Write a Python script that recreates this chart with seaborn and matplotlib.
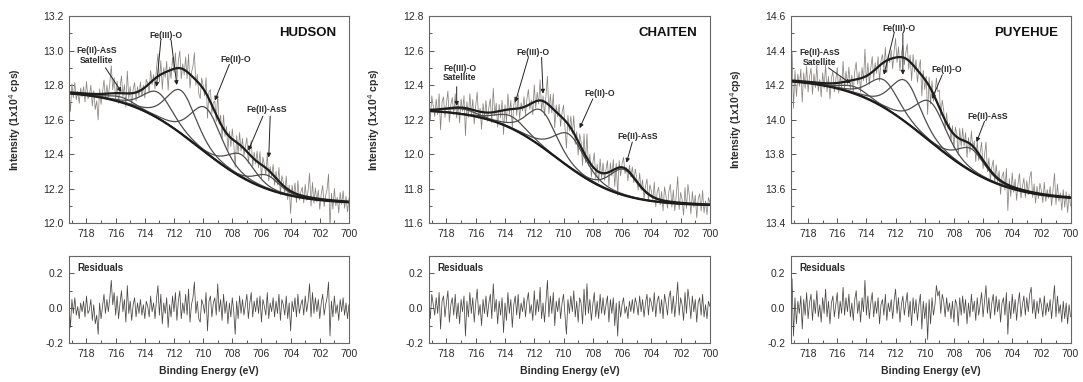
import numpy as np
import matplotlib
matplotlib.use("Agg")
import matplotlib.pyplot as plt
from matplotlib.ticker import MultipleLocator, FormatStrFormatter
import seaborn as sns

# --- data ---------------------------------------------------------------
samples = ["HUDSON", "CHAITEN", "PUYEHUE"]
y_limits = [(12.0, 13.2), (11.6, 12.8), (13.4, 14.6)]
y_labels = ["Intensity (1x10$^4$ cps)", "Intensity (1x10$^4$ cps)", "Intensity (1x10$^4$cps)"]

# background step: high BE level, low BE level, step centre (eV), step width (eV)
bg_high = [12.77, 12.26, 14.24]
bg_low = [12.11, 11.70, 13.53]
bg_center = [710.3, 710.5, 709.8]
bg_width = [2.5, 2.2, 2.6]

# fitted components: centre (eV), height above background, FWHM (eV)
hudson_centers = [715.6, 713.1, 711.5, 709.8, 707.4, 705.6]
hudson_heights = [0.03, 0.15, 0.25, 0.26, 0.13, 0.08]
hudson_fwhm = [2.2, 2.4, 2.4, 2.5, 2.2, 2.0]

chaiten_centers = [716.9, 713.6, 711.5, 709.6, 705.9]
chaiten_heights = [0.03, 0.07, 0.21, 0.19, 0.15]
chaiten_fwhm = [2.4, 2.4, 2.4, 2.5, 2.2]

puyehue_centers = [714.8, 712.8, 711.3, 709.6, 706.8]
puyehue_heights = [0.04, 0.16, 0.24, 0.23, 0.13]
puyehue_fwhm = [2.2, 2.4, 2.4, 2.5, 2.2]

# residuals, 0.1 eV steps from 719.2 eV downwards, in units of 0.01
hudson_resid = [
    2, -11, 5, -3, 6, -4, 1, -6, 3, -2,
    4, -5, 7, -3, -1, 5, -7, 2, -9, -4,
    -15, 3, -6, 1, 8, -3, 5, -2, 6, 16,
    2, 9, -4, 7, -6, 3, 10, -2, 5, -8,
    13, -3, 4, -7, 2, 6, -5, 3, -3, 5,
    -4, 2, -6, 4, 1, -5, 7, -2, 3, -6,
    5, 13, -4, 8, -9, 3, -3, 6, -11, 2,
    -5, 7, -2, 9, -7, 4, 10, -6, 3, -3,
    8, -4, 11, -8, 2, 6, 15, -3, 4, -6,
    -8, 5, 2, -3, 9, -13, 4, 7, -5, 3,
    6, -4, 14, -2, 5, -7, 8, -3, 4, -9,
    3, -5, 6, -2, -15, 4, -6, 7, -3, 5,
    -4, 2, 8, -6, 3, 9, -5, 4, -2, 6,
    -3, 7, -8, 5, 1, -4, 9, -6, 3, -2,
    6, -5, 4, -3, 8, -7, 5, 2, -4, 7,
    -6, 3, -13, 4, -2, 6, -5, 8, -3, 2,
    5, -4, 7, -2, 4, 14, -5, 9, -3, 6,
    -2, 5, -6, 3, 8, -4, 2, 6, 15, -16,
    4, -5, 7, -3, 2, -7, 5, -2, 6, -4,
    3, -6, 2,
]
chaiten_resid = [
    5, -6, 8, 2, -4, 6, -3, 9, -12, 4,
    7, -5, 3, 10, -8, 2, 6, -4, 8, -6,
    3, -9, 5, -2, 7, -16, 4, -5, 9, -3,
    6, -8, 3, 11, -4, 2, -10, 5, -3, 7,
    -5, 3, 8, -6, 14, -2, 5, -9, 4, -4,
    6, -14, 3, -7, 9, -3, 5, -11, 2, 7,
    -4, 8, -6, 3, -2, 6, -5, 4, 9, -3,
    2, -7, 10, -4, 5, -2, 12, -6, 3, -8,
    4, 16, -5, 7, -3, 9, -10, 4, -2, 6,
    -6, 3, 8, -4, -15, 5, -3, 7, -2, 10,
    -5, 4, -8, 6, 3, -9, 11, -4, 14, -3,
    5, -7, 2, 9, -5, 4, -6, 8, -3, 6,
    -4, 2, 7, -8, 5, -3, 6, -10, 3, -16,
    4, -5, 2, 6, -3, 1, -6, 4, -2, 5,
    -3, 6, 2, -4, 7, -2, 5, -5, 3, 8,
    -4, 6, 3, -2, 9, -5, 4, 7, -3, 5,
    -6, 8, 3, -4, 6, 10, -3, 7, -5, 4,
    15, -4, 6, 2, -7, 9, -3, 11, 4, -6,
    7, -2, 5, -8, 3, 6, -4, 8, -5, 2,
    -6, 4, 1,
]
puyehue_resid = [
    8, 17, -16, 6, -9, 4, -3, 7, -12, 5,
    -4, 9, -6, 3, 8, -7, 5, -3, 10, -5,
    2, -8, 6, -3, 11, -5, 4, -9, 3, 7,
    -5, 2, 9, -6, 4, -3, 12, -4, 6, -2,
    8, -5, 3, -7, 5, 10, -3, 4, -8, 6,
    -2, 16, -4, 7, -6, 3, 9, -5, 4, -3,
    6, -9, 2, 5, -4, 8, -7, 3, -2, 5,
    -6, 4, 11, -3, 6, -8, 2, 7, -4, 3,
    9, -5, 4, -10, 6, -3, 5, -7, 2, 8,
    -12, 4, -6, 3, -18, 5, -9, 6, -4, 2,
    13, 7, 10, -3, 8, 4, -5, 6, -2, 3,
    -6, 4, -8, 5, 2, -10, 6, -4, 7, -3,
    5, -9, 3, -5, 8, -2, 4, -7, 6, -4,
    2, 9, -5, 4, 13, -3, 6, -6, 3, 8,
    -4, 7, -2, 5, -8, 3, 6, -4, 9, -15,
    4, -6, 8, -3, 5, -7, 3, 9, -5, 2,
    7, -4, 6, -2, 8, 12, -3, 5, -6, 4,
    -3, 6, 2, -5, 7, -4, 3, -2, 5, -6,
    4, 13, -5, 7, -3, 2, -8, 4, -6, 3,
    -9, 2, -5,
]

peaks = [
    (hudson_centers, hudson_heights, hudson_fwhm),
    (chaiten_centers, chaiten_heights, chaiten_fwhm),
    (puyehue_centers, puyehue_heights, puyehue_fwhm),
]
residuals = [hudson_resid, chaiten_resid, puyehue_resid]

# --- annotation layout (text pos, arrow tails -> tips) --------------------
notes = [
    [
        ("Fe(II)-AsS\nSatellite", (717.3, 12.97), [((716.7, 12.90), (715.6, 12.76))]),
        ("Fe(III)-O", (712.55, 13.09), [((712.9, 13.06), (713.2, 12.79)),
                                        ((712.2, 13.06), (711.8, 12.80))]),
        ("Fe(II)-O", (707.8, 12.95), [((708.2, 12.92), (709.2, 12.71))]),
        ("Fe(II)-AsS", (705.65, 12.66), [((705.9, 12.62), (706.9, 12.42)),
                                         ((705.4, 12.62), (705.5, 12.38))]),
    ],
    [
        ("Fe(III)-O\nSatellite", (717.1, 12.47), [((717.3, 12.39), (717.3, 12.28))]),
        ("Fe(III)-O", (712.1, 12.59), [((712.4, 12.56), (713.3, 12.30)),
                                       ((711.5, 12.56), (711.4, 12.35))]),
        ("Fe(II)-O", (707.5, 12.35), [((708.0, 12.32), (708.9, 12.15))]),
        ("Fe(II)-AsS", (704.9, 12.10), [((705.3, 12.07), (705.7, 11.95))]),
    ],
    [
        ("Fe(II)-AsS\nSatellite", (717.2, 14.36), [((716.6, 14.30), (715.1, 14.21))]),
        ("Fe(III)-O", (711.8, 14.53), [((712.1, 14.50), (712.8, 14.26)),
                                       ((711.5, 14.50), (711.5, 14.26))]),
        ("Fe(II)-O", (708.5, 14.29), [((708.8, 14.26), (709.5, 14.12))]),
        ("Fe(II)-AsS", (705.65, 14.02), [((705.9, 13.99), (706.45, 13.87))]),
    ],
]


def gl_peak(e, centre, height, fwhm, mix=0.3):
    d = (e - centre) / fwhm
    return height * ((1 - mix) * np.exp(-4 * np.log(2) * d ** 2) + mix / (1 + 4 * d ** 2))


sns.set_style("ticks")
plt.rcParams["font.family"] = ["Liberation Sans", "DejaVu Sans"]
text_col = "#2b2b2b"
raw_col = "#8a847f"
comp_col = "#4d4d4d"
dark_col = "#1c1c1c"

fig = plt.figure(figsize=(10.83, 3.82), dpi=100)
lefts = [0.0637, 0.396, 0.730]
widths = [0.2585, 0.2595, 0.2585]

for k, name in enumerate(samples):
    resid = np.array(residuals[k]) * 0.01
    energy = 719.2 - 0.1 * np.arange(len(resid))
    centres, heights, fwhms = peaks[k]
    comps = [gl_peak(energy, c, h, w) for c, h, w in zip(centres, heights, fwhms)]
    total = np.sum(comps, axis=0)
    step = 1 / (1 + np.exp(-(energy - bg_center[k]) / bg_width[k]))
    bg = bg_low[k] + (bg_high[k] - bg_low[k]) * step
    envelope = bg + total
    raw = envelope + resid

    ax = fig.add_axes([lefts[k], 0.416, widths[k], 0.542])
    sns.lineplot(x=energy, y=raw, ax=ax, color=raw_col, lw=0.55, estimator=None)
    for comp in comps:
        sns.lineplot(x=energy, y=bg + comp, ax=ax, color=comp_col, lw=0.9, estimator=None)
    sns.lineplot(x=energy, y=bg, ax=ax, color=dark_col, lw=1.6, estimator=None)
    sns.lineplot(x=energy, y=envelope, ax=ax, color=dark_col, lw=1.6, estimator=None)

    ax.set_xlim(719.2, 700)
    ax.set_ylim(*y_limits[k])
    ax.xaxis.set_major_locator(MultipleLocator(2))
    ax.xaxis.set_minor_locator(MultipleLocator(1))
    ax.yaxis.set_major_locator(MultipleLocator(0.2))
    ax.yaxis.set_minor_locator(MultipleLocator(0.1))
    ax.yaxis.set_major_formatter(FormatStrFormatter("%.1f"))
    ax.set_ylabel(y_labels[k], fontsize=7.5, fontweight="bold", color=text_col)
    ax.yaxis.set_label_coords(-0.165, 0.5)
    ax.set_xlabel("")
    ax.text(0.955, 0.92, name, transform=ax.transAxes, ha="right", va="center",
            fontsize=9.5, fontweight="bold", color="#111111")

    for label, pos, arrows in notes[k]:
        ax.text(pos[0], pos[1], label, ha="center", va="center", fontsize=6.2,
                fontweight="bold", color=text_col, linespacing=1.1)
        for tail, tip in arrows:
            ax.annotate("", xy=tip, xytext=tail,
                        arrowprops=dict(arrowstyle="-|>", color="#222222", lw=0.7,
                                        mutation_scale=6, shrinkA=0, shrinkB=0))

    rax = fig.add_axes([lefts[k], 0.102, widths[k], 0.228])
    sns.lineplot(x=energy, y=resid, ax=rax, color="#4a4745", lw=0.55, estimator=None)
    rax.set_xlim(719.2, 700)
    rax.set_ylim(-0.2, 0.3)
    rax.xaxis.set_major_locator(MultipleLocator(2))
    rax.xaxis.set_minor_locator(MultipleLocator(1))
    rax.yaxis.set_major_locator(MultipleLocator(0.2))
    rax.yaxis.set_minor_locator(MultipleLocator(0.1))
    rax.yaxis.set_major_formatter(FormatStrFormatter("%.1f"))
    rax.set_xlabel("Binding Energy (eV)", fontsize=7.5, fontweight="bold",
                   color=text_col, labelpad=5)
    rax.set_ylabel("")
    rax.text(0.03, 0.86, "Residuals", transform=rax.transAxes, ha="left", va="center",
             fontsize=7, fontweight="bold", color=text_col)

    for a in (ax, rax):
        a.tick_params(which="both", direction="in", top=False, right=False,
                      labelsize=7.5, labelcolor=text_col, color="#555555", width=0.7)
        a.tick_params(which="major", length=3.5, pad=4)
        a.tick_params(which="minor", length=2)
        for sp in a.spines.values():
            sp.set_visible(True)
            sp.set_color("#666666")
            sp.set_linewidth(0.8)

fig.savefig("out.png", dpi=100)
plt.close(fig)
